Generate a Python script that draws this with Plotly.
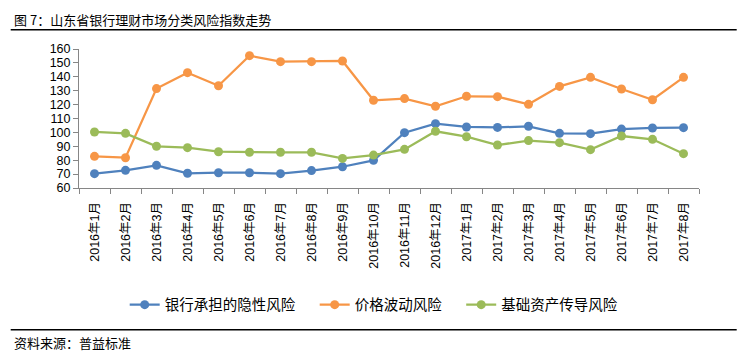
import plotly.graph_objects as go

months = ["2016年1月", "2016年2月", "2016年3月", "2016年4月", "2016年5月", "2016年6月",
          "2016年7月", "2016年8月", "2016年9月", "2016年10月", "2016年11月", "2016年12月",
          "2017年1月", "2017年2月", "2017年3月", "2017年4月", "2017年5月", "2017年6月",
          "2017年7月", "2017年8月"]
bank_hidden_risk = [70.3, 72.7, 76.3, 70.6, 71.0, 71.0, 70.3, 72.5, 75.3, 79.9,
                    99.8, 106.3, 103.9, 103.6, 104.4, 99.3, 99.1, 102.4, 103.2, 103.4]
price_volatility_risk = [82.8, 81.8, 131.5, 143.0, 133.6, 155.2, 150.9, 150.9, 151.4, 123.1,
                         124.3, 118.8, 126.0, 125.7, 120.2, 133.1, 139.6, 131.2, 123.5, 139.6]
underlying_asset_risk = [100.3, 99.3, 90.0, 89.0, 86.1, 85.7, 85.7, 85.7, 81.3, 83.7,
                         87.8, 100.8, 96.9, 90.9, 94.1, 92.6, 87.6, 97.4, 95.0, 84.7]
series_names = ["银行承担的隐性风险", "价格波动风险", "基础资产传导风险"]
colors = ["#4F81BD", "#F79646", "#9BBB59"]

FONT = "Liberation Sans, Arial, Noto Sans CJK SC, sans-serif"
CJK = "Noto Sans CJK SC, sans-serif"

fig = go.Figure()
series = [bank_hidden_risk, price_volatility_risk, underlying_asset_risk]
for i, (name, vals, c) in enumerate(zip(series_names, series, colors)):
    label = name + ("\u2003" if i < len(series_names) - 1 else "")
    fig.add_trace(go.Scatter(x=months, y=vals, name=label, mode="lines+markers",
                             line=dict(color=c, width=2.25),
                             marker=dict(color=c, size=9)))

# the page body has an 8px margin; compensate so reference pixel positions line up
OFF = 8
W, H = 747 - OFF, 355 - OFF
PL, PR, PT, PB = 79.3, 699.3, 49.3, 188.3   # plot area in reference pixels
L, R, T, B = PL - OFF, 747 - PR, PT - OFF, 355 - PB


def px(x):
    return (x - PL) / (PR - PL)


def py(y):
    return (PB - y) / (PB - PT)


fig.update_layout(
    width=W, height=H,
    margin=dict(l=L, r=R, t=T, b=B, pad=0),
    paper_bgcolor="white", plot_bgcolor="white",
    font=dict(family=FONT, size=12, color="#000000"),
    showlegend=True,
    legend=dict(orientation="h", x=px(125), xanchor="left", y=py(305), yanchor="middle",
                font=dict(family=CJK, size=14.5, color="#000000"),
                itemwidth=30, tracegroupgap=0, bgcolor="rgba(0,0,0,0)"),
    xaxis=dict(type="category", range=[-0.5, 19.5], tickson="boundaries",
               showline=True, linecolor="#868686", linewidth=1,
               ticks="outside", ticklen=5, tickcolor="#868686",
               tickangle=-90, showgrid=False, zeroline=False,
               ticklabelstandoff=8,
               tickfont=dict(family=FONT, size=12.5)),
    yaxis=dict(range=[60, 160], dtick=10, tick0=60,
               showline=True, linecolor="#868686", linewidth=1,
               ticks="outside", ticklen=5, tickcolor="#868686",
               showgrid=False, zeroline=False,
               tickfont=dict(family=FONT, size=12.5)),
    shapes=[
        dict(type="line", xref="paper", yref="paper", x0=px(11), x1=px(737),
             y0=py(30), y1=py(30), line=dict(color="#000000", width=1.5)),
        dict(type="line", xref="paper", yref="paper", x0=px(11), x1=px(737),
             y0=py(330), y1=py(330), line=dict(color="#000000", width=1.5)),
    ],
    annotations=[
        dict(text="图 7：山东省银行理财市场分类风险指数走势", xref="paper", yref="paper",
             x=px(12), y=py(20), xanchor="left", yanchor="middle", showarrow=False,
             font=dict(family=CJK, size=13, color="#000000")),
        dict(text="资料来源：普益标准", xref="paper", yref="paper",
             x=px(12), y=py(343), xanchor="left", yanchor="middle", showarrow=False,
             font=dict(family=CJK, size=13, color="#000000")),
    ],
)

fig.write_html("out.html")
